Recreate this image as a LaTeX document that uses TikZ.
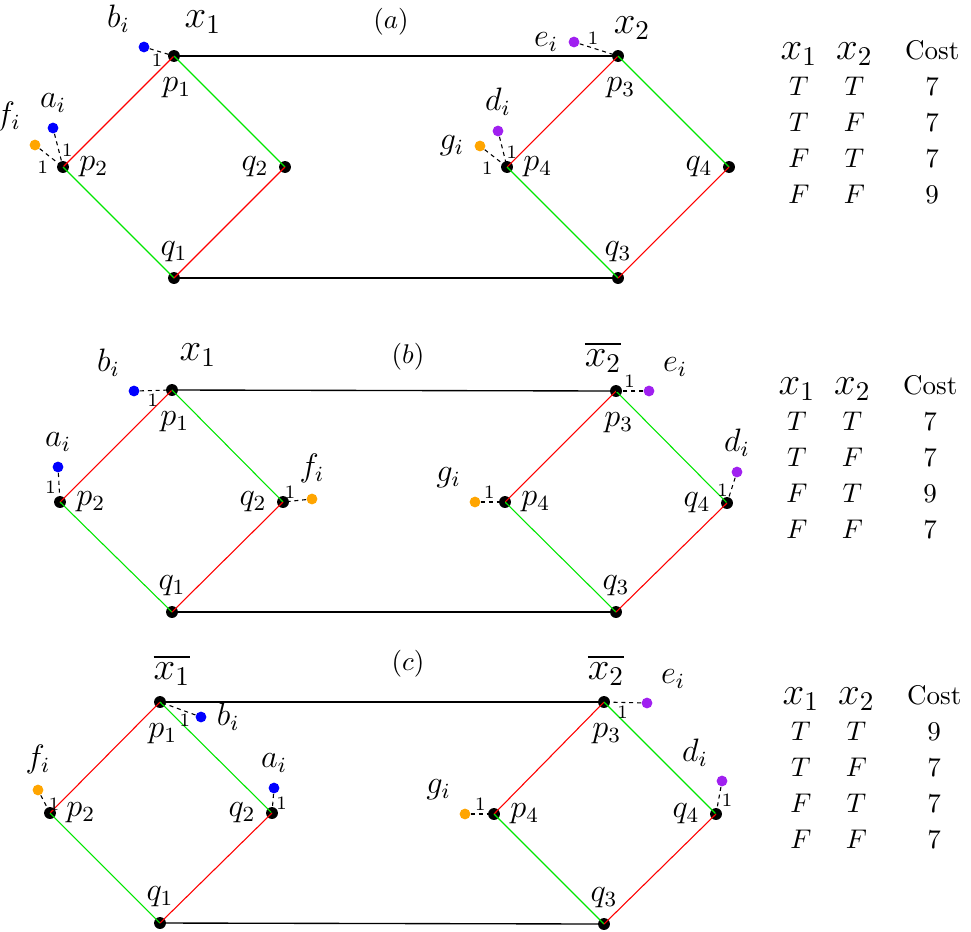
\documentclass[tikz,border=0pt]{standalone}
\usepackage{tikz}
\usetikzlibrary{positioning,calc}
\usepackage{amsmath}
\usepackage{amssymb}
\definecolor{attblue}{RGB}{0,0,255}
\definecolor{attorange}{RGB}{255,165,0}
\definecolor{attpurple}{RGB}{160,32,240}
\definecolor{edgered}{RGB}{255,0,0}
\definecolor{edgegreen}{RGB}{0,230,0}
\renewcommand{\arraystretch}{1.11}

\begin{document}
\begin{tikzpicture}[
  x=0.37pt, y=-0.37pt,
  vtx/.style={circle, fill=black, inner sep=0pt, minimum size=4.4pt},
  att/.style={circle, fill=#1, inner sep=0pt, minimum size=4pt},
  lab/.style={font=\large, inner sep=3.5pt},
  labb/.style={font=\large, inner sep=3.5pt, yshift=-2pt, xshift=1pt},
  lit/.style={font=\Large, inner sep=0pt},
  panlab/.style={font=\normalsize, inner sep=0pt},
  tab/.style={inner sep=0pt, font=\normalsize},
  redge/.style={draw=edgered, line width=0.4pt},
  gedge/.style={draw=edgegreen, line width=0.4pt},
  bedge/.style={draw=black, line width=0.5pt},
  wt/.style={draw=black, line width=0.4pt, dash pattern=on 1.5pt off 1.4pt},
  wlab/.style={font=\scriptsize, inner sep=1pt}
]
\useasboundingbox (0,0) rectangle (971,931);
%% ─── (a) ───────────────────────────────────────────────────────────────────
\node[vtx, label={[labb]below:$p_1$}] (a-p1) at (174,56)  {};
\node[vtx, label={[lab]right:$p_2$}]  (a-p2) at (63,167)  {};
\node[vtx, label={[lab]left:$q_2$}]   (a-q2) at (285,167) {};
\node[vtx, label={[lab]above:$q_1$}]  (a-q1) at (174,278) {};
\node[vtx, label={[labb]below:$p_3$}] (a-p3) at (618,56)  {};
\node[vtx, label={[lab]right:$p_4$}]  (a-p4) at (507,167) {};
\node[vtx, label={[lab]left:$q_4$}]   (a-q4) at (729,167) {};
\node[vtx, label={[lab]above:$q_3$}]  (a-q3) at (618,278) {};
\node[lit] (a-x1)  at (203,22) {$x_1$};
\node[lit] (a-x2)  at (632,28) {$x_2$};
\node[panlab] (a-cap) at (391,22) {$(a)$};
\node[att=attblue,   label={[lab]above left:$b_i$}] (a-bi) at (144,47)  {};
\node[att=attblue,   label={[lab]above:$a_i$}]      (a-ai) at (53,128)  {};
\node[att=attorange, label={[lab]above left:$f_i$}] (a-fi) at (35,145)  {};
\node[att=attpurple, label={[lab]left:$e_i$}]       (a-ei) at (574,42)  {};
\node[att=attpurple, label={[lab]above:$d_i$}]      (a-di) at (498,131) {};
\node[att=attorange, label={[lab]left:$g_i$}]       (a-gi) at (480,146) {};
\draw[bedge] (a-p1.center) -- (a-p3.center);
\draw[bedge] (a-q1.center) -- (a-q3.center);
\draw[redge] (a-p1.center) -- (a-p2.center);
\draw[gedge] (a-p1.center) -- (a-q2.center);
\draw[gedge] (a-p2.center) -- (a-q1.center);
\draw[redge] (a-q1.center) -- (a-q2.center);
\draw[redge] (a-p3.center) -- (a-p4.center);
\draw[gedge] (a-p3.center) -- (a-q4.center);
\draw[gedge] (a-p4.center) -- (a-q3.center);
\draw[redge] (a-q3.center) -- (a-q4.center);
\draw[wt] (a-bi) -- node[wlab, below, pos=0.3] {1} (a-p1.center);
\draw[wt] (a-ai) -- node[wlab, right] {1} (a-p2.center);
\draw[wt] (a-fi) -- node[wlab, below left] {1} (a-p2.center);
\draw[wt] (a-ei) -- node[wlab, above, pos=0.35] {1} (a-p3.center);
\draw[wt] (a-di) -- node[wlab, right] {1} (a-p4.center);
\draw[wt] (a-gi) -- node[wlab, below left] {1} (a-p4.center);
\node[tab] (a-tab) at (870,124) {\begin{tabular}{@{}c@{\hspace{7pt}}c@{\hspace{12pt}}c@{}}
  \Large$x_1$ & \Large$x_2$ & Cost\\
  $T$ & $T$ & 7\\ $T$ & $F$ & 7\\ $F$ & $T$ & 7\\ $F$ & $F$ & 9
\end{tabular}};
%% ─── (b) ───────────────────────────────────────────────────────────────────
\node[vtx, label={[labb]below:$p_1$}] (b-p1) at (172,390) {};
\node[vtx, label={[lab]right:$p_2$}]  (b-p2) at (60,502)  {};
\node[vtx, label={[lab]left:$q_2$}]   (b-q2) at (283,502) {};
\node[vtx, label={[lab]above:$q_1$}]  (b-q1) at (172,612) {};
\node[vtx, label={[labb]below:$p_3$}] (b-p3) at (616,391) {};
\node[vtx, label={[lab]right:$p_4$}]  (b-p4) at (505,502) {};
\node[vtx, label={[lab]left:$q_4$}]   (b-q4) at (727,503) {};
\node[vtx, label={[lab]above:$q_3$}]  (b-q3) at (616,612) {};
\node[lit] (b-x1)  at (198,355) {$x_1$};
\node[lit] (b-x2)  at (603,357) {$\overline{x_2}$};
\node[panlab] (b-cap) at (408,357) {$(b)$};
\node[att=attblue,   label={[lab]above left:$b_i$}]  (b-bi) at (134,391) {};
\node[att=attblue,   label={[lab]above:$a_i$}]       (b-ai) at (58,467)  {};
\node[att=attorange, label={[lab]above:$f_i$}]       (b-fi) at (312,499) {};
\node[att=attpurple, label={[lab]above right:$e_i$}] (b-ei) at (649,391) {};
\node[att=attorange, label={[lab]above left:$g_i$}]  (b-gi) at (475,502) {};
\node[att=attpurple, label={[lab]above:$d_i$}]       (b-di) at (737,472) {};
\draw[bedge] (b-p1.center) -- (b-p3.center);
\draw[bedge] (b-q1.center) -- (b-q3.center);
\draw[redge] (b-p1.center) -- (b-p2.center);
\draw[gedge] (b-p1.center) -- (b-q2.center);
\draw[gedge] (b-p2.center) -- (b-q1.center);
\draw[redge] (b-q1.center) -- (b-q2.center);
\draw[redge] (b-p3.center) -- (b-p4.center);
\draw[gedge] (b-p3.center) -- (b-q4.center);
\draw[gedge] (b-p4.center) -- (b-q3.center);
\draw[redge] (b-q3.center) -- (b-q4.center);
\draw[wt] (b-bi) -- node[wlab, below, pos=0.4] {1} (b-p1.center);
\draw[wt] (b-ai) -- node[wlab, left] {1} (b-p2.center);
\draw[wt] (b-fi) -- node[wlab, above, pos=0.7] {1} (b-q2.center);
\draw[wt] (b-ei) -- node[wlab, above] {1} (b-p3.center);
\draw[wt] (b-gi) -- node[wlab, above, pos=0.35] {1} (b-p4.center);
\draw[wt] (b-di) -- node[wlab, left] {1} (b-q4.center);
\node[tab] (b-tab) at (868,459) {\begin{tabular}{@{}c@{\hspace{7pt}}c@{\hspace{12pt}}c@{}}
  \Large$x_1$ & \Large$x_2$ & Cost\\
  $T$ & $T$ & 7\\ $T$ & $F$ & 7\\ $F$ & $T$ & 9\\ $F$ & $F$ & 7
\end{tabular}};
%% ─── (c) ───────────────────────────────────────────────────────────────────
\node[vtx, label={[labb]below:$p_1$}] (c-p1) at (160,702) {};
\node[vtx, label={[lab]right:$p_2$}]  (c-p2) at (50,813)  {};
\node[vtx, label={[lab]left:$q_2$}]   (c-q2) at (272,813) {};
\node[vtx, label={[lab]above:$q_1$}]  (c-q1) at (160,923) {};
\node[vtx, label={[labb]below:$p_3$}] (c-p3) at (604,702) {};
\node[vtx, label={[lab]right:$p_4$}]  (c-p4) at (494,814) {};
\node[vtx, label={[lab]left:$q_4$}]   (c-q4) at (716,814) {};
\node[vtx, label={[lab]above:$q_3$}]  (c-q3) at (604,924) {};
\node[lit] (c-x1)  at (172,670) {$\overline{x_1}$};
\node[lit] (c-x2)  at (606,670) {$\overline{x_2}$};
\node[panlab] (c-cap) at (408,664) {$(c)$};
\node[att=attblue,   label={[lab]right:$b_i$}]       (c-bi) at (201,717) {};
\node[att=attorange, label={[lab]above:$f_i$}]       (c-fi) at (38,790)  {};
\node[att=attblue,   label={[lab]above:$a_i$}]       (c-ai) at (274,788) {};
\node[att=attpurple, label={[lab]above right:$e_i$}] (c-ei) at (647,703) {};
\node[att=attorange, label={[lab]above left:$g_i$}]  (c-gi) at (465,814) {};
\node[att=attpurple, label={[lab]above left:$d_i$}]  (c-di) at (722,781) {};
\draw[bedge] (c-p1.center) -- (c-p3.center);
\draw[bedge] (c-q1.center) -- (c-q3.center);
\draw[redge] (c-p1.center) -- (c-p2.center);
\draw[gedge] (c-p1.center) -- (c-q2.center);
\draw[gedge] (c-p2.center) -- (c-q1.center);
\draw[redge] (c-q1.center) -- (c-q2.center);
\draw[redge] (c-p3.center) -- (c-p4.center);
\draw[gedge] (c-p3.center) -- (c-q4.center);
\draw[gedge] (c-p4.center) -- (c-q3.center);
\draw[redge] (c-q3.center) -- (c-q4.center);
\draw[wt] (c-bi) -- node[wlab, below, pos=0.3] {1} (c-p1.center);
\draw[wt] (c-fi) -- node[wlab, right] {1} (c-p2.center);
\draw[wt] (c-ai) -- node[wlab, right] {1} (c-q2.center);
\draw[wt] (c-ei) -- node[wlab, below] {1} (c-p3.center);
\draw[wt] (c-gi) -- node[wlab, above, pos=0.4] {1} (c-p4.center);
\draw[wt] (c-di) -- node[wlab, right] {1} (c-q4.center);
\node[tab] (c-tab) at (872,769) {\begin{tabular}{@{}c@{\hspace{7pt}}c@{\hspace{12pt}}c@{}}
  \Large$x_1$ & \Large$x_2$ & Cost\\
  $T$ & $T$ & 9\\ $T$ & $F$ & 7\\ $F$ & $T$ & 7\\ $F$ & $F$ & 7
\end{tabular}};
\end{tikzpicture}
\end{document}
